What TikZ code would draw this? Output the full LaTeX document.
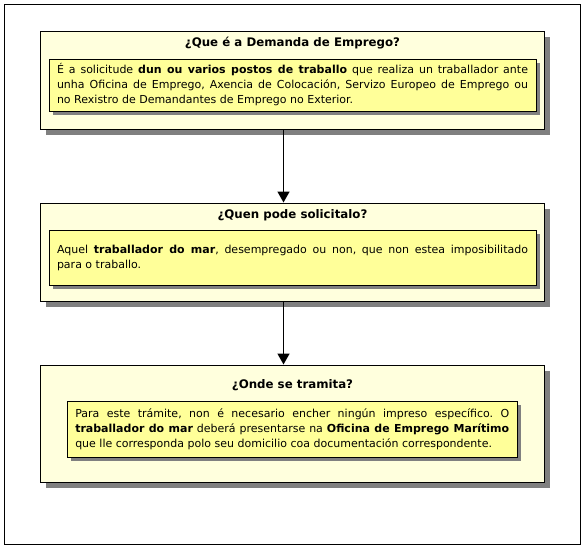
\documentclass[tikz,border=0pt]{standalone}
\usepackage{fontspec}
\setmainfont{DejaVu Sans}
\usetikzlibrary{shadows,arrows.meta}
\definecolor{paleyellow}{HTML}{FFFFDD}
\definecolor{boxyellow}{HTML}{FFFF99}
\definecolor{shadowgray}{HTML}{808080}
\frenchspacing
\begin{document}
\begin{tikzpicture}[x=1pt,y=-1pt,
  outerbox/.style={draw=black,line width=1pt,fill=paleyellow,minimum width=504pt,inner sep=0pt,
    drop shadow={shadow xshift=5pt,shadow yshift=-6pt,fill=shadowgray,opacity=1}},
  innerbox/.style={draw=black,line width=1pt,fill=boxyellow,inner xsep=8pt,inner ysep=0pt,
    align=justify,font=\fontsize{11}{15}\selectfont,
    drop shadow={shadow xshift=4pt,shadow yshift=-4pt,fill=shadowgray,opacity=1}},
  titletext/.style={font=\fontsize{11.8}{13}\selectfont\bfseries,inner sep=0pt},
  flowarrow/.style={line width=1.5pt,-{Triangle[length=11pt,width=12pt]}}
]
\useasboundingbox (0,0) rectangle (585,549);
\draw[line width=1pt] (4.5,4.5) rectangle (580,544);

% Box 1
\node[outerbox,minimum height=98pt] (b1) at (292.5,80) {};
\node[titletext] (t1) at (292.5,43) {¿Que é a Demanda de Emprego?};
\node[innerbox,text width=471pt,minimum height=52pt] (i1) at (292.5,85)
  {É a solicitude \textbf{dun ou varios postos de traballo} que realiza un traballador ante\linebreak
   unha Oficina de Emprego, Axencia de Colocación, Servizo Europeo de Emprego ou\linebreak
   no Rexistro de Demandantes de Emprego no Exterior.};

% Box 2
\node[outerbox,minimum height=98pt] (b2) at (292.5,252) {};
\node[titletext] (t2) at (292.5,215) {¿Quen pode solicitalo?};
\node[innerbox,text width=471pt,minimum height=55pt] (i2) at (292.5,257.5)
  {Aquel \textbf{traballador do mar}, desempregado ou non, que non estea imposibilitado\linebreak
   para o traballo.};

% Box 3
\node[outerbox,minimum height=117pt] (b3) at (292.5,423.5) {};
\node[titletext] (t3) at (292.5,385) {¿Onde se tramita?};
\node[innerbox,text width=434pt,minimum height=56pt] (i3) at (292.25,429)
  {Para este trámite, non é necesario encher ningún impreso específico. O\linebreak
   \textbf{traballador do mar} deberá presentarse na \textbf{Oficina de Emprego Marítimo}\linebreak
   que lle corresponda polo seu domicilio coa documentación correspondente.};

% Arrows
\draw[flowarrow] ([xshift=-9pt]b1.south) -- ([xshift=-9pt]b2.north);
\draw[flowarrow] ([xshift=-9pt]b2.south) -- ([xshift=-9pt]b3.north);
\end{tikzpicture}
\end{document}
